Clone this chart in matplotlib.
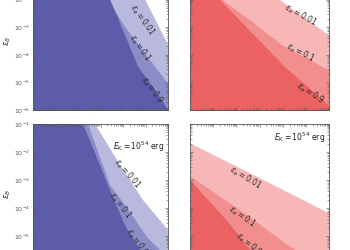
import numpy as np
import matplotlib
matplotlib.use("Agg")
import matplotlib.pyplot as plt
from matplotlib.ticker import FixedLocator, FuncFormatter, NullFormatter

# boundaries of the allowed region for each eps_e, as (log10 n, log10 eps_B)
eps_e_labels = ["0.01", "0.1", "0.9"]
y_decades = [-6, -5, -4, -3, -2, -1]
x_decades = [-5, -4, -3, -2, -1, 0, 1]

# top left (blue)
tl_x = [[-5.0, -1.133, -0.644, -0.022, 1.0],
        [-5.0, -2.467, -1.667, -0.911, 0.2, 1.0],
        [-5.0, -2.111, -1.578, -0.333, 0.333, 1.0]]
tl_y = [[0.0, -0.20, -1.0, -2.01, -3.645],
        [0.0, -1.0, -2.01, -2.993, -4.188, -5.058],
        [0.0, -1.0, -2.01, -4.442, -5.167, -6.0]]

# top right (red)
tr_x = [[-5.0, -2.799, -1.116, -0.037, 1.0],
        [-5.3, -3.619, -2.410, -1.029, 0.179, 1.0],
        [-5.43, -3.705, -2.324, -0.900, 0.740, 1.0]]
tr_y = [[0.0, -1.0, -2.01, -2.667, -3.283],
        [-1.0, -2.01, -2.739, -3.645, -4.188, -4.551],
        [-1.0, -2.01, -3.210, -4.442, -5.638, -5.855]]

# bottom left (blue), E_K = 1e54 erg
bl_x = [[-5.0, -2.244, -1.133, -0.111, 1.0],
        [-5.0, -2.556, -1.578, -0.911, 0.067, 1.0],
        [-5.0, -2.778, -2.022, -1.489, -0.911, -0.244, 0.2, 1.0]]
bl_y = [[0.0, -1.0, -2.464, -3.714, -4.786],
        [0.0, -1.0, -3.179, -3.893, -5.036, -5.786],
        [0.0, -1.0, -2.464, -3.536, -4.607, -5.5, -6.0, -8.0]]

# bottom right (red), E_K = 1e54 erg
br_x = [[-5.0, -1.979, 1.0],
        [-5.0, -2.842, -0.770, 1.0],
        [-5.0, -3.360, -2.410, -1.892, 1.0]]
br_y = [[-1.679, -2.929, -4.179],
        [-2.857, -4.071, -5.321, -6.214],
        [-3.0, -4.5, -5.5, -6.0, -8.0]]

# contour label positions and angles
tl_lab = [(-0.156, -2.739, -55), (-0.244, -3.754, -55), (0.289, -5.275, -55)]
tr_lab = [(-0.253, -2.558, -29), (-0.253, -3.935, -28), (0.179, -5.384, -33)]
bl_lab = [(-0.822, -2.75, -50), (-1.133, -3.893, -53), (-0.378, -5.214, -55)]
br_lab = [(-2.626, -2.929, -31), (-2.756, -4.321, -35), (-2.454, -5.286, -40)]

blues = ["#b9b9dd", "#8c8cc6", "#5c5ca9"]
reds = ["#f8b7b7", "#f28e8e", "#ea6262"]

W, H = 350.0, 250.0
fig = plt.figure(figsize=(3.5, 2.5), dpi=100)


def minor_locs(decades):
    return [m * 10.0 ** d for d in decades for m in range(2, 10)]


def panel(px0, px1, py_top, py_bot, xs, ys, labs, cols, ylab, ek=None):
    ax = fig.add_axes([px0 / W, 1 - py_bot / H, (px1 - px0) / W, (py_bot - py_top) / H])
    for x, y, c in zip(xs, ys, cols):
        ax.fill_between(10.0 ** np.array(x), 1e-9, 10.0 ** np.array(y), color=c, lw=0)
    ax.set_xscale("log")
    ax.set_yscale("log")
    ax.set_xlim(1e-5, 1e1)
    ax.set_ylim(1e-6, 1e-1)
    ax.yaxis.set_major_locator(FixedLocator([10.0 ** d for d in y_decades]))
    ax.yaxis.set_major_formatter(FuncFormatter(lambda v, p: r"$10^{%d}$" % round(np.log10(v))))
    ax.yaxis.set_minor_locator(FixedLocator(minor_locs(y_decades)))
    ax.yaxis.set_minor_formatter(NullFormatter())
    ax.xaxis.set_major_locator(FixedLocator([10.0 ** d for d in x_decades]))
    ax.xaxis.set_minor_locator(FixedLocator(minor_locs(x_decades)))
    ax.xaxis.set_minor_formatter(NullFormatter())
    for (lx, ly, rot), t in zip(labs, eps_e_labels):
        ax.text(10 ** lx, 10 ** ly, r"$\epsilon_e = %s$" % t, rotation=rot,
                ha="center", va="center", fontsize=5.5, color="#2a2a2a")
    ax.tick_params(which="both", direction="in", top=True, right=True,
                   labelsize=4.5, labelcolor="#555555", color="#555555",
                   width=0.4, pad=2)
    ax.tick_params(which="major", length=2.5)
    ax.tick_params(which="minor", length=1.2)
    ax.tick_params(axis="x", labelbottom=False)
    if not ylab:
        ax.tick_params(axis="y", labelleft=False)
    else:
        ax.set_ylabel(r"$\epsilon_B$", fontsize=6, color="#333333", labelpad=1)
    for s in ax.spines.values():
        s.set_linewidth(0.6)
        s.set_color("#555555")
    if ek is not None:
        ax.text(0.975, ek, r"$E_{\rm K} = 10^{54}$ erg", transform=ax.transAxes,
                ha="right", va="center", fontsize=5.5, color="#222222")
    return ax


panel(33, 168, -28, 110, tl_x, tl_y, tl_lab, blues, True)
panel(190, 329, -28, 110, tr_x, tr_y, tr_lab, reds, False)
panel(33, 168, 124, 264, bl_x, bl_y, bl_lab, blues, True, ek=0.84)
panel(190, 329, 124, 264, br_x, br_y, br_lab, reds, False, ek=0.9)

fig.savefig("out.png", dpi=100)
